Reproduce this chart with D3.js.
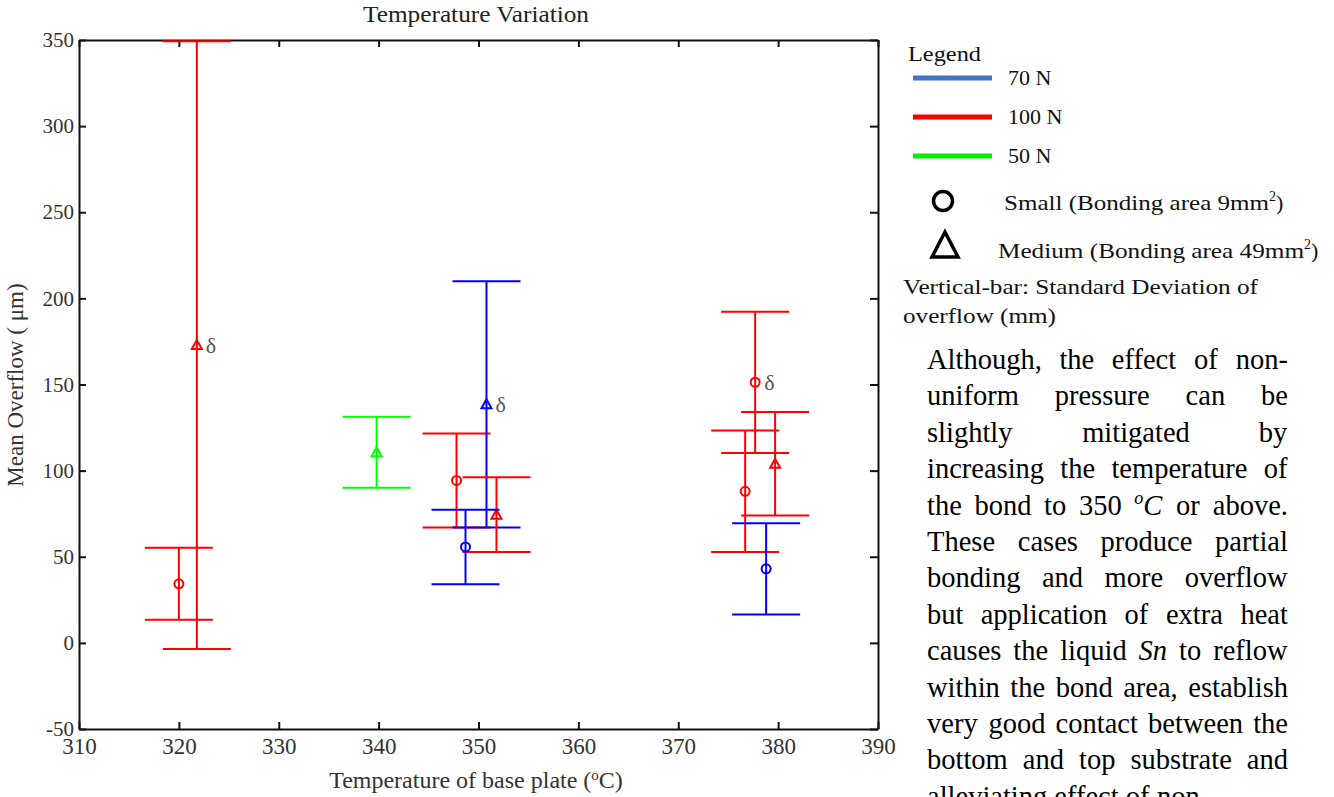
<!DOCTYPE html>
<html>
<head>
<meta charset="utf-8">
<script src="https://cdn.jsdelivr.net/npm/d3@7"></script>
<style>
  body { margin: 0; background: #fff; }
  svg { display: block; }
</style>
</head>
<body>
<svg id="chart" width="1334" height="797"></svg>
<script>
// data
const temperatures = [320, 321.8, 339.8, 347.8, 350.8, 351.8, 348.7, 377.7, 376.7, 379.7, 378.8];
const meanOverflow = [34.3, 172.9, 110.7, 94.3, 138.5, 74.4, 55.7, 151.3, 88.0, 104.0, 43.0];
const stdDev = [20.9, 176.4, 20.6, 27.3, 71.5, 21.7, 21.6, 41.0, 35.3, 30.0, 26.5];
const loadForce = ["100 N", "100 N", "50 N", "100 N", "70 N", "100 N", "70 N", "100 N", "100 N", "100 N", "70 N"];
const bondSize = ["Small", "Medium", "Medium", "Small", "Medium", "Medium", "Small", "Small", "Small", "Medium", "Small"];
const deltaMark = [false, true, false, false, true, false, false, true, false, false, false];

const xTicks = [310, 320, 330, 340, 350, 360, 370, 380, 390];
const yTicks = [-50, 0, 50, 100, 150, 200, 250, 300, 350];

const loadLabels = ["70 N", "100 N", "50 N"];
const sizeLabels = ["Small (Bonding area 9mm", "Medium (Bonding area 49mm"];

const paraLines = [
  ["Although,", "the", "effect", "of", "non-"],
  ["uniform", "pressure", "can", "be"],
  ["slightly", "mitigated", "by"],
  ["increasing", "the", "temperature", "of"],
  ["the", "bond", "to", "350", "oC", "or", "above."],
  ["These", "cases", "produce", "partial"],
  ["bonding", "and", "more", "overflow"],
  ["but", "application", "of", "extra", "heat"],
  ["causes", "the", "liquid", "Sn", "to", "reflow"],
  ["within", "the", "bond", "area,", "establish"],
  ["very", "good", "contact", "between", "the"],
  ["bottom", "and", "top", "substrate", "and"],
  ["alleviating", "effect", "of", "non-"]
];

const data = temperatures.map((t, i) => ({
  t: t, m: meanOverflow[i], s: stdDev[i],
  load: loadForce[i], size: bondSize[i], delta: deltaMark[i]
}));

const plotColor = d3.scaleOrdinal().domain(["70 N", "100 N", "50 N"]).range(["#0000ff", "#ff0000", "#00ff00"]);
const legendColor = d3.scaleOrdinal().domain(["70 N", "100 N", "50 N"]).range(["#4472c4", "#ff0000", "#00ee00"]);

const svg = d3.select("#chart");
const plotL = 79, plotT = 40, plotR = 878, plotB = 729;

const x = d3.scaleLinear().domain([310, 390]).range([plotL, plotR]);
const y = d3.scaleLinear().domain([-50, 350]).range([plotB, plotT]);

const serif = "'Liberation Serif', 'Times New Roman', serif";

// axes, ticks pointing inward
svg.append("g")
  .attr("transform", `translate(0,${plotB})`)
  .call(d3.axisBottom(x).tickValues(xTicks).tickFormat(d => d).tickSizeInner(-7).tickSizeOuter(0).tickPadding(9))
  .call(g => g.selectAll("text").attr("font-size", 23).attr("font-family", serif).attr("fill", "#333"));

svg.append("g")
  .attr("transform", `translate(${plotL},0)`)
  .call(d3.axisLeft(y).tickValues(yTicks).tickFormat(d => d).tickSizeInner(-7).tickSizeOuter(0).tickPadding(5))
  .call(g => g.selectAll("text").attr("font-size", 21).attr("font-family", serif).attr("fill", "#333"));

svg.append("g")
  .attr("transform", `translate(0,${plotT})`)
  .call(d3.axisTop(x).tickValues(xTicks).tickSizeInner(-7).tickSizeOuter(0).tickFormat(""));

svg.append("g")
  .attr("transform", `translate(${plotR},0)`)
  .call(d3.axisRight(y).tickValues(yTicks).tickSizeInner(-8).tickSizeOuter(0).tickFormat(""));

svg.selectAll(".domain").attr("stroke", "#111").attr("stroke-width", 2);
svg.selectAll(".tick line").attr("stroke", "#111").attr("stroke-width", 2);

// titles
svg.append("text")
  .attr("x", 476).attr("y", 22)
  .attr("text-anchor", "middle")
  .attr("font-family", serif).attr("font-size", 24).attr("fill", "#222")
  .attr("textLength", 226).attr("lengthAdjust", "spacingAndGlyphs")
  .text("Temperature Variation");

svg.append("text")
  .attr("x", 476).attr("y", 788)
  .attr("text-anchor", "middle")
  .attr("font-family", serif).attr("font-size", 24).attr("fill", "#333")
  .html("Temperature of base plate (<tspan dy='-8' font-size='15'>o</tspan><tspan dy='8'>C)</tspan>");

svg.append("text")
  .attr("transform", "translate(23,385) rotate(-90)")
  .attr("text-anchor", "middle")
  .attr("font-family", serif).attr("font-size", 23).attr("fill", "#333")
  .text("Mean Overflow ( \u03bcm)");

// error bars
const capHalf = 34;
const bars = svg.append("g").selectAll("g").data(data).join("g")
  .attr("stroke", d => plotColor(d.load))
  .attr("stroke-width", 2)
  .attr("fill", "none");

bars.append("line")
  .attr("x1", d => x(d.t)).attr("x2", d => x(d.t))
  .attr("y1", d => y(d.m - d.s)).attr("y2", d => y(d.m + d.s));
bars.append("line")
  .attr("x1", d => x(d.t) - capHalf).attr("x2", d => x(d.t) + capHalf)
  .attr("y1", d => y(d.m + d.s)).attr("y2", d => y(d.m + d.s));
bars.append("line")
  .attr("x1", d => x(d.t) - capHalf).attr("x2", d => x(d.t) + capHalf)
  .attr("y1", d => y(d.m - d.s)).attr("y2", d => y(d.m - d.s));

// markers
bars.filter(d => d.size === "Small").append("circle")
  .attr("cx", d => x(d.t)).attr("cy", d => y(d.m)).attr("r", 4.5);
bars.filter(d => d.size === "Medium").append("path")
  .attr("d", d => {
    const cx = x(d.t), cy = y(d.m);
    return `M${cx - 5},${cy + 4}L${cx + 5},${cy + 4}L${cx},${cy - 5}Z`;
  });

svg.append("g").selectAll("text").data(data.filter(d => d.delta)).join("text")
  .attr("x", d => x(d.t) + 9).attr("y", d => y(d.m) + 8)
  .attr("font-family", serif).attr("font-size", 22).attr("fill", "#555")
  .text("\u03b4");

// legend
const lg = svg.append("g").attr("font-family", serif).attr("fill", "#111");
lg.append("text").attr("x", 908).attr("y", 61).attr("font-size", 22)
  .attr("textLength", 73).attr("lengthAdjust", "spacingAndGlyphs").text("Legend");

const loadY = d3.scalePoint().domain(loadLabels).range([78, 156]);
lg.selectAll("line.key").data(loadLabels).join("line")
  .attr("class", "key")
  .attr("x1", 913).attr("x2", 992)
  .attr("y1", d => loadY(d)).attr("y2", d => loadY(d))
  .attr("stroke", d => legendColor(d)).attr("stroke-width", 5);
lg.selectAll("text.key").data(loadLabels).join("text")
  .attr("class", "key")
  .attr("x", 1008).attr("y", d => loadY(d) + 7)
  .attr("font-size", 22)
  .text(d => d);

lg.append("circle").attr("cx", 943).attr("cy", 201).attr("r", 9.5)
  .attr("fill", "none").attr("stroke", "#000").attr("stroke-width", 3.5);
lg.append("path").attr("d", "M932,257L958,257L945,232Z")
  .attr("fill", "none").attr("stroke", "#000").attr("stroke-width", 3.5).attr("stroke-linejoin", "miter");

const sizeX = [1004, 998], sizeY = [210, 258], sizeW = [265, 306];
sizeLabels.forEach((s, i) => {
  const t = lg.append("text").attr("x", sizeX[i]).attr("y", sizeY[i]).attr("font-size", 22);
  t.append("tspan").attr("textLength", sizeW[i]).attr("lengthAdjust", "spacingAndGlyphs").text(s);
  t.append("tspan").attr("dy", -9).attr("font-size", 14).text("2");
  t.append("tspan").attr("dy", 9).text(")");
});

lg.append("text").attr("x", 903).attr("y", 294).attr("font-size", 22)
  .attr("textLength", 355).attr("lengthAdjust", "spacingAndGlyphs")
  .text("Vertical-bar: Standard Deviation of");
lg.append("text").attr("x", 903).attr("y", 323).attr("font-size", 22)
  .attr("textLength", 153).attr("lengthAdjust", "spacingAndGlyphs")
  .text("overflow (mm)");

// justified paragraph
const pg = svg.append("g").attr("font-family", serif).attr("font-size", 28.5).attr("fill", "#000");
const pLeft = 927, pRight = 1288, pTop = 369, pStep = 36.4;

paraLines.forEach((words, li) => {
  const row = pg.append("g");
  const nodes = words.map(w => {
    const t = row.append("text").attr("y", pTop + li * pStep);
    if (w === "oC") {
      t.append("tspan").attr("font-style", "italic").attr("font-size", 18).attr("dy", -11).text("o");
      t.append("tspan").attr("font-style", "italic").attr("dy", 11).text("C");
    } else if (w === "Sn") {
      t.attr("font-style", "italic").text(w);
    } else {
      t.text(w);
    }
    return t;
  });
  const widths = nodes.map(n => n.node().getBBox().width);
  const total = d3.sum(widths);
  const last = li === paraLines.length - 1;
  const gap = last ? 7 : (pRight - pLeft - total) / (words.length - 1);
  let cx = pLeft;
  nodes.forEach((n, i) => {
    n.attr("x", cx);
    cx += widths[i] + gap;
  });
});
</script>
</body>
</html>
